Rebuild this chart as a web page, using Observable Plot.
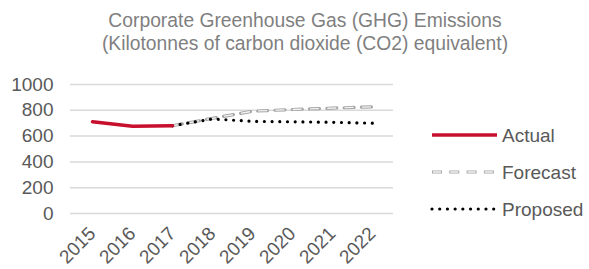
<!DOCTYPE html>
<html>
<head>
<meta charset="utf-8">
<script src="https://cdn.jsdelivr.net/npm/d3@7"></script>
<script src="https://cdn.jsdelivr.net/npm/@observablehq/plot@0.6"></script>
<style>
  body { margin: 0; background: #fff; font-family: "Liberation Sans", Arial, sans-serif; }
  #wrap { position: relative; width: 589px; height: 269px; overflow: hidden; }
  #title { position: absolute; left: 0; top: 9px; width: 610px; text-align: center; font-size: 19.3px; line-height: 23px; color: #7f7f7f; }
  #legend { position: absolute; left: 0; top: 0; }
</style>
</head>
<body>
<div id="wrap">
  <div id="chart"></div>
  <div id="title">Corporate Greenhouse Gas (GHG) Emissions<br>(Kilotonnes of carbon dioxide (CO2) equivalent)</div>
</div>
<script>
const years = ["2015","2016","2017","2018","2019","2020","2021","2022"];
const actualYears = ["2015","2016","2017"];
const actualValues = [711, 677, 680];
const forecastYears = ["2017","2018","2019","2020","2021","2022"];
const forecastValues = [680, 738, 793, 806, 817, 827];
const proposedYears = ["2017","2018","2019","2020","2021","2022"];
const proposedValues = [680, 733, 714, 711, 707, 700];
const yTicks = [0, 200, 400, 600, 800, 1000];
const seriesNames = ["Actual", "Forecast", "Proposed"];

const actual = actualYears.map((y, i) => ({year: y, value: actualValues[i]}));
const forecast = forecastYears.map((y, i) => ({year: y, value: forecastValues[i]}));
const proposed = proposedYears.map((y, i) => ({year: y, value: proposedValues[i]}));

const plot = Plot.plot({
  width: 589,
  height: 269,
  marginTop: 84,
  marginBottom: 56,
  marginLeft: 70,
  marginRight: 196,
  style: {fontFamily: "'Liberation Sans', Arial, sans-serif", fontSize: "19px", color: "#595959", background: "#fff"},
  x: {type: "point", domain: years, padding: 0.5},
  y: {domain: [0, 1000]},
  marks: [
    Plot.gridY(yTicks, {stroke: "#d9d9d9", strokeOpacity: 1, strokeWidth: 1.5}),
    Plot.axisY(yTicks, {tickSize: 0, tickPadding: 17, label: null, fill: "#595959", tickFormat: d => String(d)}),
    Plot.axisX({tickSize: 0, tickRotate: -45, tickPadding: 17, label: null, fill: "#595959"}),
    Plot.line(forecast, {x: "year", y: "value", stroke: "#a6a6a6", strokeWidth: 3.2, strokeDasharray: "10 7.3"}),
    Plot.line(forecast, {x: "year", y: "value", stroke: "#f4f4f4", strokeWidth: 1.3, strokeDasharray: "8 9.3", strokeDashoffset: -1}),
    Plot.line(proposed, {x: "year", y: "value", stroke: "#000", strokeWidth: 3.2, strokeDasharray: "0.01 7.7", strokeLinecap: "round"}),
    Plot.line(actual, {x: "year", y: "value", stroke: "#c8102e", strokeWidth: 3.5})
  ]
});
document.getElementById("chart").appendChild(plot);

// legend
const ns = "http://www.w3.org/2000/svg";
const leg = document.createElementNS(ns, "svg");
leg.setAttribute("id", "legend");
leg.setAttribute("width", 589);
leg.setAttribute("height", 269);
const rows = [
  {name: seriesNames[0], y: 135, draw: [{stroke: "#c8102e", w: 3.5, dash: null}]},
  {name: seriesNames[1], y: 172, draw: [{stroke: "#a6a6a6", w: 3.2, dash: "10 7.3"}, {stroke: "#f4f4f4", w: 1.3, dash: "8 9.3", off: -1}]},
  {name: seriesNames[2], y: 209, draw: [{stroke: "#000", w: 3.2, dash: "0.01 7.7", cap: "round"}]}
];
rows.forEach(r => {
  r.draw.forEach(d => {
    const l = document.createElementNS(ns, "line");
    l.setAttribute("x1", 432); l.setAttribute("x2", 497);
    l.setAttribute("y1", r.y); l.setAttribute("y2", r.y);
    l.setAttribute("stroke", d.stroke);
    l.setAttribute("stroke-width", d.w);
    if (d.dash) l.setAttribute("stroke-dasharray", d.dash);
    if (d.off) l.setAttribute("stroke-dashoffset", d.off);
    if (d.cap) l.setAttribute("stroke-linecap", d.cap);
    leg.appendChild(l);
  });
  const t = document.createElementNS(ns, "text");
  t.setAttribute("x", 502);
  t.setAttribute("y", r.y);
  t.setAttribute("dy", "0.35em");
  t.setAttribute("font-size", "19px");
  t.setAttribute("font-family", "'Liberation Sans', Arial, sans-serif");
  t.setAttribute("fill", "#595959");
  t.textContent = r.name;
  leg.appendChild(t);
});
document.getElementById("wrap").appendChild(leg);
</script>
</body>
</html>
